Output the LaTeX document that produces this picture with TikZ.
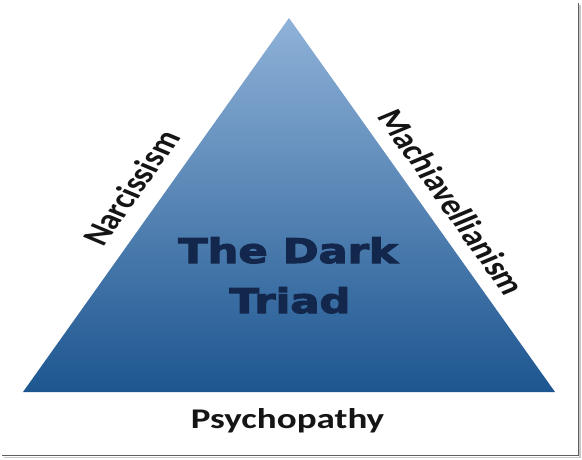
\documentclass[tikz,border=0pt]{standalone}
\usepackage{fontspec}
\setmainfont{Carlito}
\newfontfamily\blackfont{DejaVu Sans Bold}[FakeBold=3]
\definecolor{triTop}{HTML}{8FB2D8}
\definecolor{triMid}{HTML}{4E80B6}
\definecolor{triBot}{HTML}{1D5690}
\definecolor{navy}{HTML}{13274C}
\definecolor{labelc}{HTML}{151515}
\tikzset{
  titletext/.style={font=\blackfont\fontsize{34}{34}\selectfont, text=navy, inner sep=0pt, xscale=1.27},
  sidelabel/.style={font=\bfseries\fontsize{28.5}{28.5}\selectfont, text=labelc, inner sep=0pt},
}
\begin{document}
\begin{tikzpicture}[x=1pt,y=-1pt]
\useasboundingbox (0,0) rectangle (582,459);
\fill[white] (0,0) rectangle (582,459);
% frame shadow
\draw[gray!45, line width=1.6pt] (580,5) -- (580,457.5) -- (4,457.5);
\draw[gray!75!black, line width=0.9pt] (578,3) -- (578,455.5) -- (2,455.5);
% triangle
\coordinate (A) at (289,18);
\coordinate (B) at (23,392);
\coordinate (C) at (555,392);
\shade[top color=triTop, middle color=triMid, bottom color=triBot] (A) -- (C) -- (B) -- cycle;
% title
\node[titletext, anchor=base] (t1) at (288,263) {The Dark};
\node[titletext, anchor=base] (t2) at (290,313) {Triad};
% labels
\node[sidelabel, anchor=base, xscale=1.3] (psy) at (287.5,428) {Psychopathy};
\node[sidelabel, xscale=1.3, rotate=61.3] (nar) at (131,188) {Narcissism};
\node[sidelabel, xscale=1.3, rotate=-61.3] (mac) at (452,202) {Machiavellianism};
\end{tikzpicture}
\end{document}
